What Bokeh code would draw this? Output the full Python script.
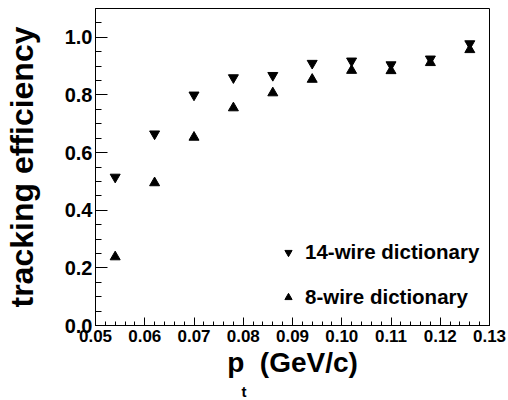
from bokeh.plotting import figure
from bokeh.models import (SingleIntervalTicker, PrintfTickFormatter, Title,
                          Legend, LegendItem, ColumnDataSource)
from bokeh.embed import file_html
from bokeh.resources import INLINE

# ---- data -------------------------------------------------------------
pt = [0.054, 0.062, 0.070, 0.078, 0.086, 0.094, 0.102, 0.110, 0.118, 0.126]
eff_14wire = [0.515, 0.665, 0.800, 0.860, 0.868, 0.910, 0.918, 0.905, 0.925, 0.978]
eff_8wire = [0.238, 0.495, 0.653, 0.755, 0.807, 0.854, 0.885, 0.884, 0.912, 0.957]
series_names = ["14-wire dictionary", "8-wire dictionary"]
x_title = "p\u00a0\u00a0(GeV/c)"
x_title_sub = "t"
y_title = "tracking efficiency"

FONT = "Liberation Sans"

p = figure(width=508, height=400, x_range=(0.05, 0.13), y_range=(0.0, 1.1),
           output_backend="svg", toolbar_location=None,
           min_border_left=93, min_border_right=19,
           min_border_top=8, min_border_bottom=75)
p.xgrid.visible = False
p.ygrid.visible = False
p.outline_line_color = "black"
p.outline_line_width = 1
p.background_fill_color = "white"
p.border_fill_color = "white"

# x axis
xa = p.xaxis[0]
xa.ticker = SingleIntervalTicker(interval=0.01, num_minor_ticks=5)
xa.formatter = PrintfTickFormatter(format="%.2f")
xa.major_tick_in = 8
xa.major_tick_out = 0
xa.minor_tick_in = 4
xa.minor_tick_out = 0
xa.major_label_standoff = 4
xa.major_label_text_font = FONT
xa.major_label_text_font_style = "bold"
xa.major_label_text_font_size = "17px"
xa.major_label_text_color = "black"
xa.axis_line_color = "black"
xa.major_tick_line_color = "black"
xa.minor_tick_line_color = "black"
xa.axis_label = x_title
xa.axis_label_standoff = 2
xa.axis_label_text_font = FONT
xa.axis_label_text_font_style = "bold"
xa.axis_label_text_font_size = "28px"
xa.axis_label_text_color = "black"

# y axis
ya = p.yaxis[0]
ya.ticker = SingleIntervalTicker(interval=0.2, num_minor_ticks=4)
ya.formatter = PrintfTickFormatter(format="%.1f")
ya.major_tick_in = 12
ya.major_tick_out = 0
ya.minor_tick_in = 6
ya.minor_tick_out = 0
ya.major_label_standoff = 3
ya.major_label_text_font = FONT
ya.major_label_text_font_style = "bold"
ya.major_label_text_font_size = "20px"
ya.major_label_text_color = "black"
ya.axis_line_color = "black"
ya.major_tick_line_color = "black"
ya.minor_tick_line_color = "black"
ya.axis_label = y_title
ya.axis_label_standoff = 22
ya.axis_label_text_font = FONT
ya.axis_label_text_font_style = "bold"
ya.axis_label_text_font_size = "32px"
ya.axis_label_text_color = "black"

src = ColumnDataSource(dict(x=pt, e14=eff_14wire, e8=eff_8wire))
r14 = p.scatter("x", "e14", source=src, marker="inverted_triangle", size=10,
                fill_color="black", line_color="black")
r8 = p.scatter("x", "e8", source=src, marker="triangle", size=10,
               fill_color="black", line_color="black")

legend = Legend(items=[LegendItem(label=series_names[0], renderers=[r14]),
                       LegendItem(label=series_names[1], renderers=[r8])],
                location=(184, 16), orientation="vertical",
                glyph_width=18, glyph_height=24, label_height=24,
                spacing=21, padding=0, margin=0, label_standoff=8,
                border_line_alpha=0, background_fill_alpha=0,
                label_text_font=FONT, label_text_font_style="bold",
                label_text_font_size="20.5px", label_text_color="black")
p.add_layout(legend, "center")

# subscript of the x title
sub = Title(text=x_title_sub, align="left", offset=146, standoff=0,
            text_font=FONT, text_font_style="bold", text_font_size="15px",
            text_color="black")
p.add_layout(sub, "below")

open("out.html", "w").write(file_html(p, INLINE))
